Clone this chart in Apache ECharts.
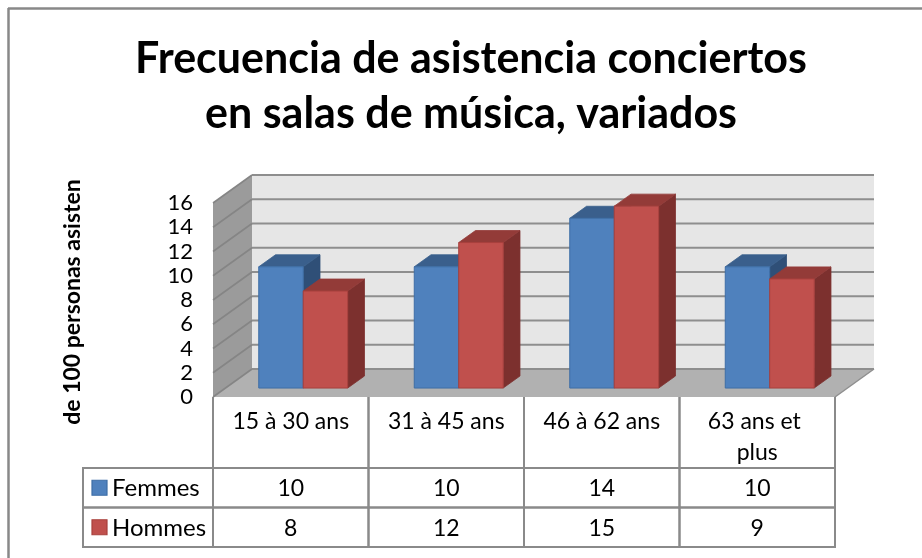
<!DOCTYPE html>
<html><head><meta charset="utf-8">
<script src="https://cdn.jsdelivr.net/npm/echarts@6/dist/echarts.min.js"></script>
<style>html,body{margin:0;padding:0;background:#fff}#c{width:922px;height:558px}</style>
</head><body><div id="c"></div>
<script>
const categories = ['15 à 30 ans', '31 à 45 ans', '46 à 62 ans', '63 ans et plus'];
const femmes = [10, 10, 14, 10];
const hommes = [8, 12, 15, 9];
const seriesNames = ['Femmes', 'Hommes'];
const yTicks = [0, 2, 4, 6, 8, 10, 12, 14, 16];
const titleText = 'Frecuencia de asistencia conciertos\nen salas de música, variados';
const yName = 'de 100 personas asisten';

const FONT = 'Lato';
const DX = 39, DY = 28;            // depth of the 3D box
const D1 = 0.32, D2 = 0.75;        // bar depth position (fraction)
const BAR_FR = 0.286;              // bar width as fraction of band
const HEADER_H = 71, ROW_H = 39.5, LEGEND_W = 130;
const colors = [
  {front: '#4f81bd', stroke: '#3e6ea6', top: '#3a5f8c', side: '#2f4f77'},
  {front: '#c0504d', stroke: '#a8403d', top: '#933b38', side: '#7c302e'}
];

const chart = echarts.init(document.getElementById('c'), null, {renderer: 'canvas'});

function wallsRender(params, api) {
  const band = api.size([1, 0])[0];
  const n = categories.length;
  const p0 = api.coord([0, yTicks[0]]);
  const pT = api.coord([0, yTicks[yTicks.length - 1]]);
  const pR = api.coord([n - 1, yTicks[0]]);
  const xL = p0[0] - band / 2, xR = pR[0] + band / 2;
  const yB = p0[1], yT = pT[1];
  return {
    type: 'group',
    children: [
      {type: 'polygon', shape: {points: [[xL + DX, yT - DY], [xR + DX, yT - DY], [xR + DX, yB - DY], [xL + DX, yB - DY]]},
        style: {fill: '#e6e6e6'}},
      {type: 'polygon', shape: {points: [[xL, yT], [xL + DX, yT - DY], [xL + DX, yB - DY], [xL, yB]]},
        style: {fill: '#9b9b9b'}},
      {type: 'polygon', shape: {points: [[xL, yB], [xL + DX, yB - DY], [xR + DX, yB - DY], [xR, yB]]},
        style: {fill: '#b1b1b1'}},
      {type: 'polyline', shape: {points: [[xR, yB], [xR + DX, yB - DY]]},
        style: {stroke: '#8f8f8f', lineWidth: 1.5, fill: null}}
    ]
  };
}

function gridRender(params, api) {
  const band = api.size([1, 0])[0];
  const n = categories.length;
  const v = api.value(1);
  const p = api.coord([0, v]);
  const pR = api.coord([n - 1, v]);
  const xL = p[0] - band / 2, xR = pR[0] + band / 2, y = p[1];
  return {
    type: 'group',
    children: [
      {type: 'polyline', shape: {points: [[xL, y], [xL + DX, y - DY]]}, style: {stroke: '#858585', lineWidth: 1.6, fill: null}},
      {type: 'polyline', shape: {points: [[xL + DX, y - DY], [xR + DX, y - DY]]}, style: {stroke: '#8e8e8e', lineWidth: 2, fill: null}}
    ]
  };
}

function barRender(s) {
  return function (params, api) {
    const i = api.value(0), v = api.value(1);
    const band = api.size([1, 0])[0];
    const bw = band * BAR_FR;
    const pt = api.coord([i, v]);
    const p0 = api.coord([i, 0]);
    const x0 = pt[0] - bw + s * bw + DX * D1;
    const x1 = x0 + bw;
    const yt = pt[1] - DY * D1;
    const yb = p0[1] - DY * D1;
    const ddx = DX * (D2 - D1), ddy = DY * (D2 - D1);
    const c = colors[s];
    return {
      type: 'group',
      children: [
        {type: 'polygon', shape: {points: [[x1, yt], [x1 + ddx, yt - ddy], [x1 + ddx, yb - ddy], [x1, yb]]},
          style: {fill: c.side, stroke: c.side, lineWidth: 0.8}},
        {type: 'polygon', shape: {points: [[x0, yt], [x0 + ddx, yt - ddy], [x1 + ddx, yt - ddy], [x1, yt]]},
          style: {fill: c.top, stroke: c.top, lineWidth: 0.8}},
        {type: 'rect', shape: {x: x0, y: yt, width: bw, height: yb - yt},
          style: {fill: c.front, stroke: c.stroke, lineWidth: 1}}
      ]
    };
  };
}

function tableRender(params, api) {
  const i = api.value(0), r = api.value(1);
  const band = api.size([1, 0])[0];
  const p0 = api.coord([i, 0]);
  const xa = p0[0] - band / 2, xb = p0[0] + band / 2;
  const yTop = p0[1];
  const ya = yTop + HEADER_H + r * ROW_H, yb = ya + ROW_H;
  const val = (r === 0 ? femmes : hommes)[i];
  const children = [
    {type: 'rect', shape: {x: xa, y: ya, width: xb - xa, height: yb - ya}, style: {fill: 'none', stroke: '#8a8a8a', lineWidth: 2}},
    {type: 'text', style: {text: String(val), x: (xa + xb) / 2, y: (ya + yb) / 2 + 1, align: 'center', verticalAlign: 'middle',
      fontFamily: FONT, fontSize: 23, fill: '#000'}}
  ];
  if (r === 0) {
    children.push({type: 'polyline', shape: {points: [[xa, yTop], [xa, ya]]}, style: {stroke: '#8a8a8a', lineWidth: 2, fill: null}});
    children.push({type: 'polyline', shape: {points: [[xb, yTop], [xb, ya]]}, style: {stroke: '#8a8a8a', lineWidth: 2, fill: null}});
  }
  if (i === 0) {
    const lx = xa - LEGEND_W;
    children.push({type: 'rect', shape: {x: lx, y: ya, width: LEGEND_W, height: yb - ya}, style: {fill: 'none', stroke: '#8a8a8a', lineWidth: 2}});
    children.push({type: 'rect', shape: {x: lx + 9, y: (ya + yb) / 2 - 7.5, width: 15, height: 15},
      style: {fill: colors[r].front, stroke: colors[r].stroke, lineWidth: 1.2}});
    children.push({type: 'text', style: {text: seriesNames[r], x: lx + 29, y: (ya + yb) / 2 + 1, align: 'left', verticalAlign: 'middle',
      fontFamily: FONT, fontSize: 24, fill: '#000'}});
  }
  return {type: 'group', children};
}

const tableData = [];
[femmes, hommes].forEach((arr, r) => arr.forEach((v, i) => tableData.push([i, r, v])));

const option = {
  backgroundColor: '#fff',
  animation: false,
  title: {
    text: titleText, left: 466, top: 27, textAlign: 'center',
    textStyle: {fontFamily: FONT, fontWeight: 'bold', fontSize: 43, lineHeight: 55, color: '#000'}
  },
  graphic: [
    {type: 'line', shape: {x1: 8, y1: 8.5, x2: 922, y2: 8.5}, style: {stroke: '#888', lineWidth: 2.5}},
    {type: 'line', shape: {x1: 8.5, y1: 8, x2: 8.5, y2: 558}, style: {stroke: '#888', lineWidth: 2.5}},
    {type: 'text', rotation: Math.PI / 2, x: 73, y: 302,
      style: {text: yName, align: 'center', verticalAlign: 'middle', fontFamily: FONT, fontWeight: 'bold', fontSize: 23, fill: '#000'}}
  ],
  grid: {left: 213, right: 87, top: 203, bottom: 161, containLabel: false},
  xAxis: {
    type: 'category', data: categories,
    axisLine: {show: false}, axisTick: {show: false}, splitLine: {show: false},
    axisLabel: {fontFamily: FONT, fontSize: 23, color: '#000', margin: 9, lineHeight: 31, width: 132, overflow: 'break', interval: 0}
  },
  yAxis: {
    type: 'value', min: 0, max: 16, interval: 2,
    axisLine: {show: false}, axisTick: {show: false}, splitLine: {show: false},
    axisLabel: {fontFamily: FONT, fontSize: 22, color: '#000', margin: 20, lineHeight: 22}
  },
  series: [
    {type: 'custom', renderItem: wallsRender, data: [[0, 0]], encode: {x: 0, y: 1}, silent: true},
    {type: 'custom', renderItem: gridRender, data: yTicks.map(t => [0, t]), encode: {x: 0, y: 1}, silent: true},
    {type: 'custom', name: seriesNames[0], renderItem: barRender(0), data: femmes.map((v, i) => [i, v]), encode: {x: 0, y: 1}},
    {type: 'custom', name: seriesNames[1], renderItem: barRender(1), data: hommes.map((v, i) => [i, v]), encode: {x: 0, y: 1}},
    {type: 'custom', renderItem: tableRender, data: tableData, encode: {x: 0, y: 1}, silent: true}
  ]
};
chart.setOption(option);
</script></body></html>
